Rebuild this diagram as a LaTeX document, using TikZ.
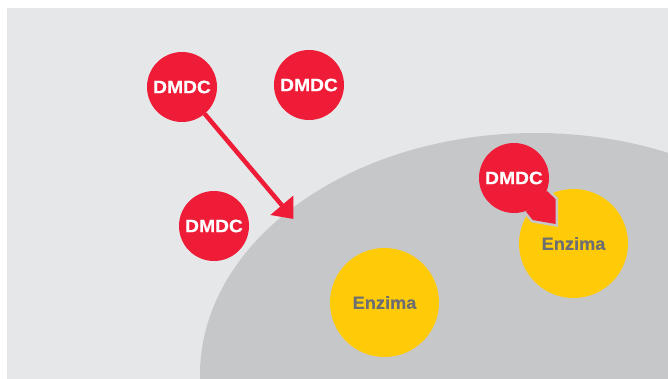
\documentclass[tikz,border=0pt]{standalone}
\usepackage{fontspec}
\setmainfont{Liberation Sans}
\usetikzlibrary{arrows.meta}
\definecolor{bgc}{HTML}{E6E7E9}
\definecolor{cellc}{HTML}{C6C7C9}
\definecolor{redc}{HTML}{EE1C36}
\definecolor{yelc}{HTML}{FFCB08}
\definecolor{txtc}{HTML}{6D6E71}
\tikzset{
  x=1pt,y=-1pt,
  dmdc/.style={circle,fill=redc,minimum size=70pt,inner sep=0pt,outer sep=0pt,text=white,font=\fontsize{18}{18}\bfseries\addfontfeature{FakeStretch=1.07,FakeBold=0.4}},
  enz/.style={circle,fill=yelc,minimum size=109pt,inner sep=0pt,outer sep=0pt,text=txtc,font=\fontsize{17.5}{18}\bfseries\addfontfeature{FakeStretch=1.04,FakeBold=0.4}},
  wedgeshape/.style={fill=redc,line join=miter}
}
\begin{document}
\begin{tikzpicture}
\useasboundingbox (0,0) rectangle (668,379);
\begin{scope}
\clip (7,8) rectangle (668,379);
\fill[bgc] (7,8) rectangle (668,379);
\fill[cellc] (535,375) ellipse [x radius=335,y radius=242];
\end{scope}
\node[enz] (e1) at (384.5,302.5) {Enzima};
\node[enz] (e2) at (573.5,243.5) {\raisebox{-1.5pt}{Enzima}};
\coordinate (tip) at (293.5,219);
\node[dmdc] (d1) at (182,87) {DMDC};
\node[dmdc] (d2) at (309,85) {DMDC};
\node[dmdc] (d3) at (214,226) {DMDC};
\draw[redc,line width=4.5pt,-{Triangle[length=18pt,width=29pt]}] (d1) -- (tip);
\draw[cellc,line width=5pt,line join=miter] (547,191) -- (555.7,199.3) -- (555.7,224) -- (532.7,220) -- (526,211.7);
\fill[wedgeshape] (547,191) -- (555.7,199.3) -- (555.7,224) -- (532.7,220) -- (526,211.7) -- cycle;
\node[dmdc] (d4) at (514,178) {DMDC};
\end{tikzpicture}
\end{document}
